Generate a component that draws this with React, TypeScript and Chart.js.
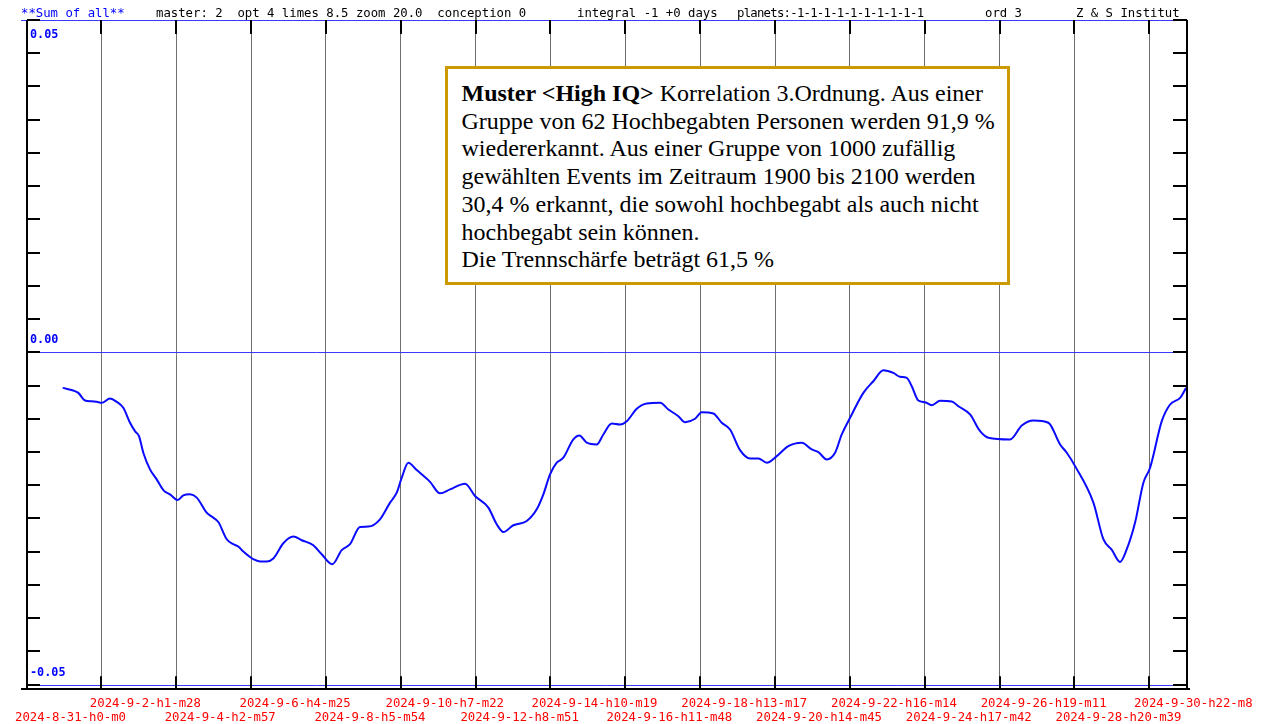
import React, { useEffect, useRef } from "react";
import { Chart, registerables } from "chart.js";

Chart.register(...registerables);

// ---- data (x in days since 2024-8-31 h0 m0, y = correlation sum) ----
const DAYS = [0.997,1.289,1.427,1.611,1.796,1.933,2.071,2.300,2.484,2.666,2.851,2.988,3.098,3.217,3.401,3.586,3.768,3.952,4.164,4.319,4.503,4.688,4.963,5.101,5.283,5.514,5.696,5.833,5.971,6.246,6.431,6.616,6.797,7.073,7.348,7.580,7.899,8.130,8.422,8.681,8.910,9.185,9.414,9.736,10.012,10.196,10.334,10.516,10.747,11.113,11.389,11.664,12.077,12.352,12.719,12.950,13.132,13.407,13.776,14.052,14.234,14.418,14.603,14.784,15.060,15.225,15.429,15.704,15.886,16.118,16.346,16.531,16.806,17.082,17.448,17.677,17.952,18.136,18.412,18.596,18.916,19.147,19.376,19.651,19.927,20.155,20.387,20.662,20.982,21.350,21.626,21.808,22.039,22.268,22.452,22.681,23.047,23.322,23.598,23.873,24.058,24.242,24.380,24.562,24.747,24.931,25.160,25.482,25.664,25.986,26.262,26.490,27.088,27.410,27.729,28.142,28.465,28.649,28.878,29.382,29.657,29.889,30.117,30.302,30.530,30.759,30.944,31.265,31.494,31.770,31.935];

const VALUES = [-0.00535,-0.00575,-0.00610,-0.00725,-0.00736,-0.00745,-0.00760,-0.00695,-0.00745,-0.00835,-0.01060,-0.01186,-0.01261,-0.01511,-0.01761,-0.01911,-0.02072,-0.02137,-0.02222,-0.02152,-0.02137,-0.02186,-0.02411,-0.02471,-0.02553,-0.02812,-0.02887,-0.02922,-0.02997,-0.03113,-0.03147,-0.03147,-0.03102,-0.02872,-0.02772,-0.02827,-0.02902,-0.03038,-0.03188,-0.02977,-0.02887,-0.02628,-0.02622,-0.02512,-0.02261,-0.02111,-0.01886,-0.01661,-0.01772,-0.01949,-0.02122,-0.02062,-0.01976,-0.02162,-0.02336,-0.02587,-0.02703,-0.02602,-0.02538,-0.02362,-0.02137,-0.01836,-0.01661,-0.01586,-0.01311,-0.01251,-0.01360,-0.01386,-0.01236,-0.01071,-0.01086,-0.01036,-0.00850,-0.00770,-0.00760,-0.00860,-0.00961,-0.01051,-0.01000,-0.00901,-0.00920,-0.01060,-0.01161,-0.01471,-0.01596,-0.01596,-0.01661,-0.01562,-0.01411,-0.01360,-0.01461,-0.01502,-0.01611,-0.01511,-0.01236,-0.00985,-0.00610,-0.00435,-0.00270,-0.00309,-0.00369,-0.00384,-0.00511,-0.00725,-0.00751,-0.00796,-0.00730,-0.00740,-0.00811,-0.00935,-0.01186,-0.01285,-0.01311,-0.01101,-0.01026,-0.01060,-0.01386,-0.01511,-0.01712,-0.02261,-0.02812,-0.02973,-0.03153,-0.02962,-0.02562,-0.01961,-0.01736,-0.01036,-0.00785,-0.00685,-0.00535];

const X_LABELS = [
  "2024-8-31-h0-m0", "2024-9-2-h1-m28", "2024-9-4-h2-m57", "2024-9-6-h4-m25",
  "2024-9-8-h5-m54", "2024-9-10-h7-m22", "2024-9-12-h8-m51", "2024-9-14-h10-m19",
  "2024-9-16-h11-m48", "2024-9-18-h13-m17", "2024-9-20-h14-m45", "2024-9-22-h16-m14",
  "2024-9-24-h17-m42", "2024-9-26-h19-m11", "2024-9-28-h20-m39", "2024-9-30-h22-m8",
];
const X_TICK_STEP_DAYS = 2.0615; // 2 days 1h 29m
const X_MAX_DAYS = 31.96;

const Y_MIN = -0.0507;
const Y_MAX = 0.05;
const Y_TICK_STEP = 0.005;
const Y_LABEL_VALUES = [0.05, 0, -0.05];
const Y_LABEL_TEXTS = ["0.05", "0.00", "-0.05"];

const HEADER_ITEMS = [
  { text: "**Sum of all**", left: 21, color: "#0000ff", spacing: 0 },
  { text: "master: 2  opt 4 limes 8.5 zoom 20.0  conception 0", left: 156, color: "#000", spacing: 0 },
  { text: "integral -1 +0 days", left: 577, color: "#000", spacing: 0 },
  { text: "planets:-1-1-1-1-1-1-1-1-1-1", left: 737, color: "#000", spacing: -0.75 },
  { text: "ord 3", left: 985, color: "#000", spacing: 0 },
  { text: "Z & S Institut", left: 1076, color: "#000", spacing: 0 },
];

const BOX_TITLE = "Muster <High IQ>";
const BOX_LINES = [
  " Korrelation 3.Ordnung. Aus einer",
  "Gruppe von 62 Hochbegabten Personen werden 91,9 %",
  "wiedererkannt. Aus einer Gruppe von 1000 zufällig",
  "gewählten Events im Zeitraum 1900 bis 2100 werden",
  "30,4 % erkannt, die sowohl hochbegabt als auch nicht",
  "hochbegabt sein können.",
  "Die Trennschärfe beträgt 61,5 %",
];

const MONO = '"DejaVu Sans Mono", "Liberation Mono", monospace';

const framePlugin = {
  id: "framePlugin",
  beforeDatasetsDraw(chart: any) {
    const { ctx, chartArea, scales } = chart;
    const y = scales.y;
    const x = scales.x;
    ctx.save();
    // blue reference lines
    ctx.strokeStyle = "#3a3aff";
    ctx.lineWidth = 1;
    Y_LABEL_VALUES.forEach((v, i) => {
      const py = Math.round(y.getPixelForValue(v)) + 0.5;
      ctx.beginPath();
      ctx.moveTo(i === 0 ? 21 : chartArea.left, py);
      ctx.lineTo(chartArea.right, py);
      ctx.stroke();
    });
    // black tick segments at the ends of vertical grid lines
    ctx.strokeStyle = "#000";
    ctx.lineWidth = 2;
    x.ticks.forEach((t: any, i: number) => {
      if (i === 0) return;
      const px = Math.round(x.getPixelForValue(t.value));
      ctx.beginPath();
      ctx.moveTo(px, chartArea.top);
      ctx.lineTo(px, chartArea.top + 14);
      ctx.moveTo(px, chartArea.bottom - 13);
      ctx.lineTo(px, chartArea.bottom);
      ctx.stroke();
    });
    ctx.restore();
  },
  afterDatasetsDraw(chart: any) {
    const { ctx, chartArea, scales } = chart;
    const y = scales.y;
    ctx.save();
    ctx.strokeStyle = "#000";
    ctx.lineWidth = 2;
    const L = Math.round(chartArea.left);
    const R = Math.round(chartArea.right);
    const B = Math.round(chartArea.bottom);
    const T = Math.round(chartArea.top);
    ctx.beginPath();
    ctx.moveTo(L, T);
    ctx.lineTo(L, B + 1);
    ctx.moveTo(R, T);
    ctx.lineTo(R, B + 1);
    ctx.moveTo(21, B);
    ctx.lineTo(R + 3, B);
    ctx.stroke();
    // y tick marks on both sides
    for (let v = -0.05; v <= 0.05 + 1e-9; v += Y_TICK_STEP) {
      const py = Math.round(y.getPixelForValue(v));
      ctx.beginPath();
      ctx.moveTo(L, py);
      ctx.lineTo(L + 13, py);
      ctx.moveTo(R - 14, py);
      ctx.lineTo(R, py);
      ctx.stroke();
    }
    // y labels
    ctx.fillStyle = "#0000ff";
    ctx.font = "bold 11.8px " + MONO;
    ctx.textBaseline = "middle";
    ctx.textAlign = "left";
    Y_LABEL_VALUES.forEach((v, i) => {
      const py = y.getPixelForValue(v);
      const off = v > 0.04 ? 15 : -12;
      ctx.fillText(Y_LABEL_TEXTS[i], L + 3, py + off);
    });
    ctx.restore();
  },
};

export default function App() {
  const canvasRef = useRef<HTMLCanvasElement | null>(null);

  useEffect(() => {
    document.body.style.margin = "0";
    const canvas = canvasRef.current;
    if (!canvas) return;
    const n = Math.min(DAYS.length, VALUES.length);
    const points = [];
    for (let i = 0; i < n; i++) points.push({ x: DAYS[i], y: VALUES[i] });

    const chart = new Chart(canvas, {
      type: "line",
      data: {
        datasets: [
          {
            data: points,
            borderColor: "#0a0aff",
            borderWidth: 2,
            pointRadius: 0,
            cubicInterpolationMode: "monotone",
            fill: false,
          },
        ],
      },
      options: {
        animation: false,
        responsive: false,
        devicePixelRatio: 1,
        events: [],
        layout: { padding: { left: 26.5, right: 78, top: 20, bottom: 0 } },
        plugins: { legend: { display: false }, tooltip: { enabled: false }, title: { display: false } },
        scales: {
          x: {
            type: "linear",
            min: 0,
            max: X_MAX_DAYS,
            afterBuildTicks: (scale: any) => {
              scale.ticks = X_LABELS.map((_, i) => ({ value: i * X_TICK_STEP_DAYS }));
            },
            afterFit: (scale: any) => {
              scale.paddingLeft = 0;
              scale.paddingRight = 0;
              scale.height = 34.7;
            },
            grid: { display: true, color: "#6e6e6e", lineWidth: 1, drawTicks: false, drawOnChartArea: true },
            border: { display: false },
            ticks: {
              autoSkip: false,
              maxRotation: 0,
              minRotation: 0,
              padding: 8,
              labelOffset: 44,
              color: "#ff0000",
              font: { family: MONO, size: 12.3, lineHeight: 1.1 },
              callback: (_v: any, index: number) =>
                index % 2 === 1 ? [X_LABELS[index], ""] : ["", X_LABELS[index]],
            },
          },
          y: {
            type: "linear",
            display: false,
            min: Y_MIN,
            max: Y_MAX,
            grid: { display: false },
          },
        },
      },
      plugins: [framePlugin],
    } as any);
    return () => chart.destroy();
  }, []);

  return (
    <div style={{ position: "relative", width: 1265, height: 724, background: "#fff", overflow: "hidden" }}>
      <canvas ref={canvasRef} width={1265} height={724} style={{ display: "block" }} />
      {HEADER_ITEMS.map((h, i) => (
        <span
          key={i}
          style={{
            position: "absolute",
            left: h.left,
            top: 6,
            fontFamily: MONO,
            fontSize: "12.3px",
            lineHeight: "14px",
            color: h.color,
            whiteSpace: "pre",
            letterSpacing: h.spacing + "px",
          }}
        >
          {h.text}
        </span>
      ))}
      <div
        style={{
          position: "absolute",
          left: 445,
          top: 66,
          width: 565,
          height: 219,
          boxSizing: "border-box",
          border: "3px solid #cc9900",
          background: "#fff",
          padding: "11px 0 0 13.5px",
          fontFamily: '"Liberation Serif", "Times New Roman", serif',
          fontSize: "24px",
          lineHeight: "27.7px",
          color: "#000",
          whiteSpace: "pre",
        }}
      >
        <b>{BOX_TITLE}</b>
        {BOX_LINES[0]}
        {BOX_LINES.slice(1).map((l, i) => (
          <React.Fragment key={i}>
            <br />
            {l}
          </React.Fragment>
        ))}
      </div>
    </div>
  );
}
